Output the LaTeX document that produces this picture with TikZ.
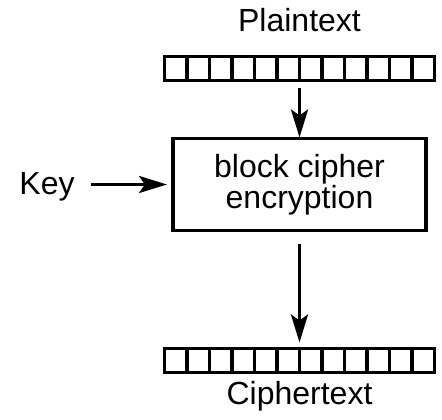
\documentclass[tikz,border=0pt]{standalone}
\usepackage{fontspec}
\setmainfont{Liberation Sans}
\usetikzlibrary{arrows.meta,positioning,calc}

\begin{document}
\begin{tikzpicture}[
  x=1pt, y=1pt,
  font=\fontsize{32}{31}\selectfont,
  >={Stealth[length=28pt,width=17pt,inset=6pt]},
  box/.style={
    draw, line width=3.4pt,
    outer sep=0pt, inner sep=0pt,
    align=center
  },
  register/.style={
    draw, line width=3.4pt,
    outer sep=0pt, inner sep=0pt,
    minimum width=270pt, minimum height=24pt
  },
  lbl/.style={inner sep=0pt, outer sep=0pt},
  edge/.style={->, line width=3.4pt}
]
\useasboundingbox (0,0) rectangle (442,420);

% Cipher block
\node[box, minimum width=253pt, minimum height=92pt] (cipher) at (299.5,235.5)
{block cipher\\encryption};

% Registers
\node[register, above=58pt of cipher] (plain) {};
\node[register, below=118pt of cipher] (cipherreg) {};

% Cell dividers
\foreach \r in {plain,cipherreg}
  \foreach \k in {1,...,11}
    \draw[line width=3.4pt] ($(\r.north west)!\k/12!(\r.north east)$)
      -- ($(\r.south west)!\k/12!(\r.south east)$);

% Labels
\node[lbl, anchor=base] (plaintext) at (299.5,388) {Plaintext};
\node[lbl, anchor=base] (ciphertext) at (299.5,15) {Ciphertext};
\node[lbl, anchor=base] (key) at (47,225) {Key};

% Edges
\draw[edge, shorten <=8pt, shorten >=1pt] (plain) -- (cipher);
\draw[edge, shorten <=14pt, shorten >=6pt] (cipher) -- (cipherreg);
\draw[edge, shorten <=16pt, shorten >=6pt] (cipher.west -| key.east) -- (cipher.west);

\end{tikzpicture}
\end{document}
